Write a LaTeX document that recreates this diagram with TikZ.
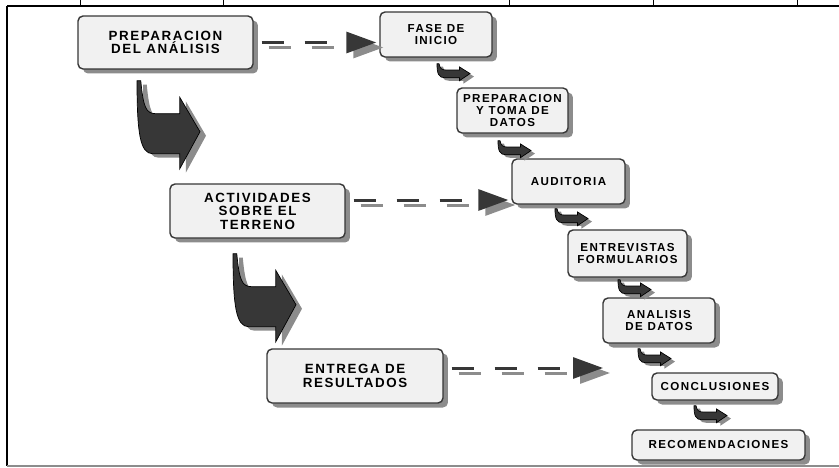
\documentclass[tikz,border=0pt]{standalone}
\usepackage{fontspec}
\usetikzlibrary{arrows.meta,shadows}
\newfontfamily\boxfont[LetterSpace=12]{Liberation Sans}
\definecolor{mydark}{RGB}{55,55,55}
\definecolor{myshadow}{RGB}{140,140,140}
\definecolor{myfill}{RGB}{241,241,241}

% Outline of the bent block arrow: width, height (tail at top left)
\newcommand\turnpath[2]{(0,0) -- (0.06*#1,0)
    .. controls (0.1*#1,0.3*#2) and (0.14*#1,0.375*#2) .. (0.3*#1,0.375*#2)
    -- (0.68*#1,0.375*#2) -- (0.68*#1,0.19*#2) -- (#1,0.58*#2)
    -- (0.68*#1,#2) -- (0.68*#1,0.83*#2) -- (0.25*#1,0.83*#2)
    .. controls (0.05*#1,0.83*#2) and (0,0.6*#2) .. cycle}

\tikzset{
    box/.style={draw=mydark, line width=0.8pt, rounded corners=0.1cm, fill=myfill,
        drop shadow={shadow xshift=0.1cm, shadow yshift=-0.09cm, fill=myshadow, opacity=1},
        align=center, inner sep=0pt, text=black},
    bigbox/.style={box, font=\boxfont\bfseries\fontsize{7.6}{7.7}\selectfont},
    smallbox/.style={box, font=\boxfont\bfseries\fontsize{6.6}{7.1}\selectfont},
    dashmain/.style={line width=0.06cm, draw=mydark, dash pattern=on 0.44cm off 0.42cm,
        dash phase=0.7cm, shorten >=0.06cm,
        -{Triangle[length=0.6cm, width=0.42cm, fill=mydark]}},
    dashshadow/.style={dashmain, draw=myshadow,
        -{Triangle[length=0.6cm, width=0.42cm, fill=myshadow]}},
    pics/bigturn/.style={code={
        \fill[myshadow, shift={(6,4)}] \turnpath{63}{88};
        \filldraw[fill=mydark, draw=black, thin] \turnpath{63}{88};
    }},
    pics/smallturn/.style={code={
        \fill[myshadow, shift={(4,3)}] \turnpath{33}{17};
        \filldraw[fill=mydark, draw=black, thin] \turnpath{33}{17};
    }},
}

\begin{document}
\begin{tikzpicture}[x=0.02cm, y=-0.02cm]
    \useasboundingbox (0,0) rectangle (839,467);

    % Frame of the figure
    \draw[line width=0.06cm] (7,6) -- (7,466);
    \draw[line width=0.04cm] (7,6) -- (839,6);
    \draw[line width=0.03cm, myshadow] (7,466) -- (839,466);
    \foreach \x in {80,223,509,653,797}
        \draw[thin] (\x,0) -- (\x,6);

    % Main stages (left column)
    \node[bigbox, minimum width=3.5cm, minimum height=1.06cm] (prep) at (165.5,42.5) {PREPARACION\\DEL ANÁLISIS};
    \node[bigbox, minimum width=3.5cm, minimum height=1.08cm] (activ) at (257.5,211) {ACTIVIDADES\\SOBRE EL\\TERRENO};
    \node[bigbox, minimum width=3.52cm, minimum height=1.08cm] (entrega) at (355,376) {ENTREGA DE\\RESULTADOS};

    % Detailed steps (right cascade)
    \node[smallbox, minimum width=2.24cm, minimum height=0.9cm] (fase) at (436,34.5) {FASE DE\\INICIO};
    \node[smallbox, minimum width=2.22cm, minimum height=0.9cm] (toma) at (512.5,110.5) {PREPARACION\\Y TOMA DE\\DATOS};
    \node[smallbox, minimum width=2.26cm, minimum height=0.9cm] (audit) at (568.5,181.5) {AUDITORIA};
    \node[smallbox, minimum width=2.38cm, minimum height=0.94cm] (entrev) at (627.5,253.5) {ENTREVISTAS\\FORMULARIOS};
    \node[smallbox, minimum width=2.24cm, minimum height=0.9cm] (anal) at (659,320.5) {ANALISIS\\DE DATOS};
    \node[smallbox, minimum width=2.52cm, minimum height=0.54cm] (concl) at (715,386.5) {CONCLUSIONES};
    \node[smallbox, minimum width=3.46cm, minimum height=0.6cm] (recom) at (718.5,445) {RECOMENDACIONES};

    % Dashed arrows from the stages to the steps
    \coordinate (t1) at (prep.east -| fase.west);
    \coordinate (a2) at ([shift={(0,-11)}]activ.east);
    \coordinate (t2) at (a2 -| audit.west);
    \coordinate (a3) at ([shift={(0,-8)}]entrega.east);
    \coordinate (t3) at (a3 -| 606,0);
    \draw[dashshadow] ([shift={(7,5)}]prep.east) -- ([shift={(7,5)}]t1);
    \draw[dashmain] (prep.east) -- (t1);
    \draw[dashshadow] ([shift={(7,5)}]a2) -- ([shift={(7,5)}]t2);
    \draw[dashmain] (a2) -- (t2);
    \draw[dashshadow] ([shift={(7,5)}]a3) -- ([shift={(7,5)}]t3);
    \draw[dashmain] (a3) -- (t3);

    % Big bent arrows between the stages
    \pic at ([shift={(-28.5,11)}]prep.south) {bigturn};
    \pic at ([shift={(-24.5,15)}]activ.south) {bigturn};

    % Small bent arrows between the steps
    \pic at ([shift={(1,6)}]fase.south) {smallturn};
    \pic at ([shift={(-14.5,7)}]toma.south) {smallturn};
    \pic at ([shift={(-13.5,4)}]audit.south) {smallturn};
    \pic at ([shift={(-9.5,2)}]entrev.south) {smallturn};
    \pic at ([shift={(-21,5)}]anal.south) {smallturn};
    \pic at ([shift={(-21,5)}]concl.south) {smallturn};
\end{tikzpicture}
\end{document}
